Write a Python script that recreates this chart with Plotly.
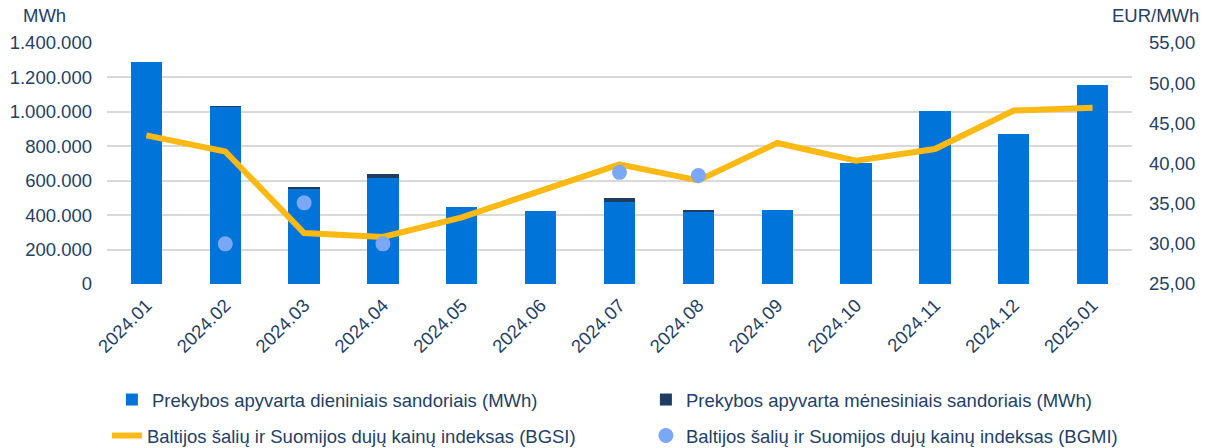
import plotly.graph_objects as go

months = ["2024.01", "2024.02", "2024.03", "2024.04", "2024.05", "2024.06", "2024.07",
          "2024.08", "2024.09", "2024.10", "2024.11", "2024.12", "2025.01"]
daily_mwh = [1291000, 1029000, 553000, 616000, 447000, 426000, 474000,
             418000, 430000, 705000, 1003000, 871000, 1156000]
monthly_mwh = [0, 5000, 12000, 25000, 0, 0, 25000, 13000, 0, 0, 0, 0, 0]
bgsi = [43.5, 41.5, 31.35, 30.85, 33.3, 36.6, 39.9, 37.9, 42.55, 40.35, 41.8, 46.6, 46.95]
bgmi = [None, 30.0, 35.1, 30.0, None, None, 38.9, 38.5, None, None, None, None, None]

name_daily = "Prekybos apyvarta dieniniais sandoriais (MWh)"
name_monthly = "Prekybos apyvarta mėnesiniais sandoriais (MWh)"
name_bgsi = "Baltijos šalių ir Suomijos dujų kainų indeksas (BGSI)"
name_bgmi = "Baltijos šalių ir Suomijos dujų kainų indeksas (BGMI)"

TXT = "#243F66"
FONT = "Liberation Sans, Arial, sans-serif"
FS = 18.5

W, H = 1208, 448
ML, MR, MT, MB = 107, 76, 43, 164
PW, PH = W - ML - MR, H - MT - MB


def px_x(px):
    return (px - ML) / PW


def px_y(py):
    return (H - MB - py) / PH


fig = go.Figure()
fig.add_trace(go.Bar(x=months, y=daily_mwh, name=name_daily,
                     marker=dict(color="#0074D9", line=dict(width=0)), legend="legend"))
fig.add_trace(go.Bar(x=months, y=monthly_mwh, name=name_monthly,
                     marker=dict(color="#1C3D64", line=dict(width=0)), legend="legend"))
fig.add_trace(go.Scatter(x=months, y=bgsi, name=name_bgsi, mode="lines", yaxis="y2",
                         line=dict(color="#FDB913", width=6), legend="legend2"))
fig.add_trace(go.Scatter(x=months, y=bgmi, name=name_bgmi, mode="markers", yaxis="y2",
                         marker=dict(color="#7BA7F7", size=15), legend="legend2"))

fig.update_layout(
    template="none",
    width=W, height=H,
    margin=dict(l=ML, r=MR, t=MT, b=MB, autoexpand=False),
    paper_bgcolor="white", plot_bgcolor="white",
    barmode="stack", bargap=0.603,
    separators=",.",
    font=dict(family=FONT, size=FS, color=TXT),
    xaxis=dict(type="category", range=[-0.5, len(months) - 0.5],
               tickangle=-45, showgrid=False, ticks="",
               showline=False, zeroline=False, ticklabelstandoff=6, automargin=False,
               tickfont=dict(size=FS, color=TXT)),
    yaxis=dict(range=[0, 1400000], dtick=200000, tickformat=",d",
               showgrid=True, gridcolor="#D9D9D9", gridwidth=2, automargin=False,
               zeroline=False, showline=False, ticks="", ticklabelstandoff=14,
               tickfont=dict(size=FS, color=TXT)),
    yaxis2=dict(range=[25, 55], dtick=5, tickformat=".2f", overlaying="y", side="right",
                showgrid=False, zeroline=False, showline=False, ticks="", automargin=False,
                ticklabelstandoff=16, tickfont=dict(size=FS, color=TXT)),
    legend=dict(orientation="h", xref="paper", yref="paper",
                x=-0.0001, y=px_y(400), xanchor="left", yanchor="middle",
                indentation=5, entrywidth=484, entrywidthmode="pixels",
                traceorder="normal",
                font=dict(size=FS, color=TXT), bgcolor="rgba(0,0,0,0)"),
    legend2=dict(orientation="h", xref="paper", yref="paper",
                 x=-0.0001, y=px_y(436), xanchor="left", yanchor="middle",
                 entrywidth=494, entrywidthmode="pixels", traceorder="normal",
                 font=dict(size=FS, color=TXT), bgcolor="rgba(0,0,0,0)"),
    annotations=[
        dict(text="MWh", xref="paper", yref="paper", x=px_x(21), y=px_y(16),
             xanchor="left", yanchor="middle", showarrow=False,
             font=dict(size=FS, color=TXT)),
        dict(text="EUR/MWh", xref="paper", yref="paper", x=px_x(1201), y=px_y(16),
             xanchor="right", yanchor="middle", showarrow=False,
             font=dict(size=FS, color=TXT)),
    ],
)

fig.write_html("out.html",
               config={"displayModeBar": False},
               post_script="document.body.style.margin='0';"
                           "document.body.style.overflow='hidden';")
